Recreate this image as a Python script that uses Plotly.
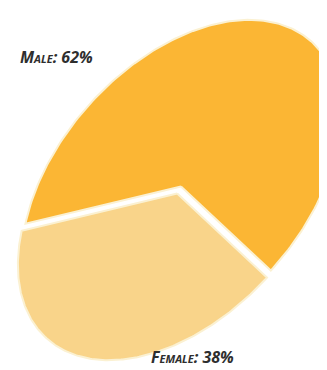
import numpy as np
import plotly.graph_objects as go

# ---- data ----
labels = ["Male", "Female"]
values = [62, 38]
colors = ["#FBB634", "#F9D48A"]
pull_px = [0, 8]

# ---- layout constants (tilted elliptical pie) ----
W, H = 327, 370
cx, cy = 173, 178.5
a, b = 195, 123
tilt = np.deg2rad(48)
u = np.array([np.cos(tilt), -np.sin(tilt)])
v = np.array([np.sin(tilt), np.cos(tilt)])
start_deg = 227.5

def ell(t):
    t = np.asarray(t)
    return (np.array([cx, cy]) + a * np.cos(t)[..., None] * u + b * np.sin(t)[..., None] * v)

fig = go.Figure()
total = float(sum(values))
ang = start_deg
for lab, val, col, pp in zip(labels, values, colors, pull_px):
    span = val / total * 360.0
    t = np.deg2rad(np.linspace(ang, ang + span, 200))
    mid = np.deg2rad(ang + span / 2)
    dvec = ell(np.array([mid]))[0] - np.array([cx, cy])
    off = dvec / np.linalg.norm(dvec) * pp
    arc = ell(t)
    xs = np.concatenate([[cx], arc[:, 0], [cx]]) + off[0]
    ys = np.concatenate([[cy], arc[:, 1], [cy]]) + off[1]
    fig.add_trace(go.Scatter(x=xs, y=ys, mode="lines", fill="toself",
                             fillcolor=col, line=dict(color="#FBF1D2", width=2),
                             hoverinfo="text", text=f"{lab}: {val}%", showlegend=False))
    ang += span

label_pos = {"Male": (48, 49, "middle"), "Female": (184, 362, "bottom")}
for lab, val in zip(labels, values):
    x, y, ya = label_pos[lab]
    fig.add_annotation(x=x, y=y, xref="x", yref="y", text=f"{lab}: {val}%",
                       showarrow=False, yanchor=ya,
                       font=dict(family="Open Sans", size=16, color="#2E2E2E",
                                 weight="bold", style="italic", variant="small-caps"))

fig.update_xaxes(range=[0, W], visible=False)
fig.update_yaxes(range=[H, 0], visible=False)
fig.update_layout(width=W, height=H, margin=dict(l=0, r=0, t=0, b=0),
                  paper_bgcolor="white", plot_bgcolor="white")
fig.write_html("out.html")
